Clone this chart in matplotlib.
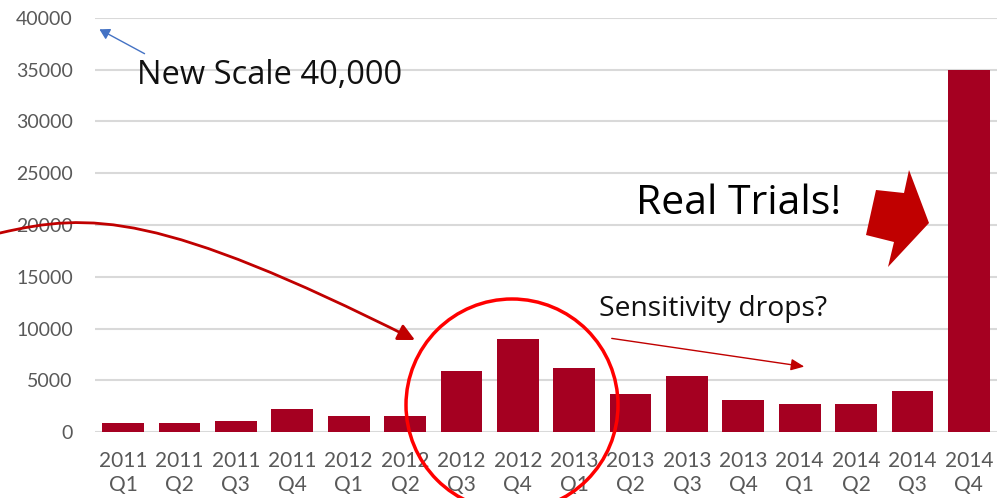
import matplotlib
matplotlib.use("Agg")
import matplotlib.pyplot as plt
from matplotlib.patches import Polygon, Ellipse, FancyArrowPatch
from matplotlib.path import Path

# quarterly counts
years = ["2011", "2011", "2011", "2011", "2012", "2012", "2012", "2012",
         "2013", "2013", "2013", "2013", "2014", "2014", "2014", "2014"]
quarters = ["Q1", "Q2", "Q3", "Q4"] * 4
values = [900, 900, 1100, 2200, 1550, 1550, 5900, 8950,
          6150, 3650, 5450, 3100, 2700, 2700, 3950, 35000]
yticks = [0, 5000, 10000, 15000, 20000, 25000, 30000, 35000, 40000]

W, H = 998, 498
plt.rcParams['font.family'] = ['Lato', 'DejaVu Sans']
note_font = ['Open Sans', 'DejaVu Sans']

fig = plt.figure(figsize=(W / 100, H / 100), dpi=100)
ax = fig.add_axes([95 / W, 1 - 432 / H, 902 / W, 414 / H])

x = list(range(len(values)))
ax.bar(x, values, width=0.74, color='#A50021', zorder=2)
ax.set_xlim(-0.5, len(values) - 0.5)
ax.set_ylim(0, 40000)
ax.set_yticks(yticks)
ax.set_xticks(x)
ax.set_xticklabels([f"{y}\n{q}" for y, q in zip(years, quarters)], linespacing=1.2)
ax.tick_params(axis='x', length=0, pad=14, labelsize=15, labelcolor='#595959')
ax.tick_params(axis='y', length=0, pad=16, labelsize=14, labelcolor='#595959')
ax.grid(axis='y', color='#D9D9D9', linewidth=1.5, zorder=0)
for s in ax.spines.values():
    s.set_visible(False)


def px(xp, yp):
    # top-left pixel coords -> figure fraction
    return (xp / W, 1 - yp / H)


tf = fig.transFigure

# blue arrow + "New Scale" note
fig.add_artist(FancyArrowPatch(px(147, 55), px(97, 28), transform=tf,
                               arrowstyle='-|>,head_length=6,head_width=3.5',
                               color='#4472C4', linewidth=1))
fig.text(*px(137, 75), "New Scale 40,000", transform=tf, fontsize=23.5,
         family=note_font, va='center', ha='left', color='#111111')

# curved red arrow coming in from the left
verts = [px(0, 233), px(90, 212), px(160, 212), px(415, 340)]
curve = Path(verts, [Path.MOVETO, Path.CURVE4, Path.CURVE4, Path.CURVE4])
fig.add_artist(FancyArrowPatch(path=curve, transform=tf,
                               arrowstyle='-|>,head_length=10,head_width=5',
                               color='#C00000', linewidth=2))

# red circle around the 2012 peak
fig.add_artist(Ellipse(px(512, 405), 212 / W, 212 / H, transform=tf,
                       fill=False, edgecolor='#FF0000', linewidth=2.5))

# sensitivity note
fig.text(*px(599, 309), "Sensitivity drops?", transform=tf, fontsize=20.3,
         family=note_font, va='center', ha='left', color='#111111')
fig.add_artist(FancyArrowPatch(px(609, 338), px(807, 367), transform=tf,
                               arrowstyle='-|>,head_length=8,head_width=3.5',
                               color='#C00000', linewidth=1))

# real trials note + block arrow
fig.text(*px(636, 204), "Real Trials!", transform=tf, fontsize=29.5,
         family=note_font, va='center', ha='left', color='#000000')
block = [(876, 190), (904, 193), (909, 170), (929, 223), (888, 267), (894, 242), (866, 235)]
fig.add_artist(Polygon([px(a, b) for a, b in block], closed=True, transform=tf,
                       facecolor='#C00000', edgecolor='none'))

fig.savefig("out.png", dpi=100)
